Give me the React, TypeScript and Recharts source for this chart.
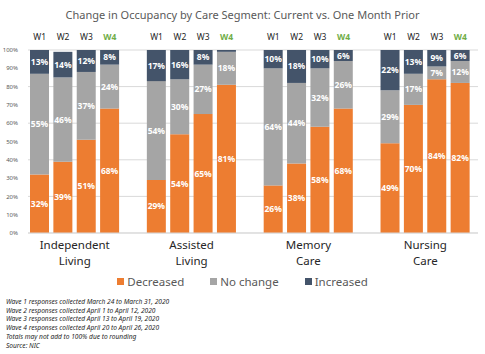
import { BarChart, Bar, XAxis, YAxis, CartesianGrid, LabelList, Legend } from "recharts";

const segments = ["Independent|Living", "Assisted|Living", "Memory|Care", "Nursing|Care"];
const waves = ["W1", "W2", "W3", "W4"];

// values per segment, W1..W4
const decreased = [32, 39, 51, 68, 29, 54, 65, 81, 26, 38, 58, 68, 49, 70, 84, 82];
const noChange = [55, 46, 37, 24, 54, 30, 27, 18, 64, 44, 32, 26, 29, 17, 7, 12];
const increased = [13, 14, 12, 8, 17, 16, 8, 1, 10, 18, 10, 6, 22, 13, 9, 6];

const yTicks = [0, 10, 20, 30, 40, 50, 60, 70, 80, 90, 100];

const notes = [
  "Wave 1 responses collected March 24 to March 31, 2020",
  "Wave 2 responses collected April 1 to April 12, 2020",
  "Wave 3 responses collected April 13 to April 19, 2020",
  "Wave 4 responses collected April 20 to April 26, 2020",
  "Totals may not add to 100% due to rounding",
  "Source: NIC",
];

type Row = {
  key: string;
  wave?: string;
  group?: string;
  dec?: number;
  none?: number;
  inc?: number;
};

const data: Row[] = [];
segments.forEach((g, gi) => {
  waves.forEach((w, wi) => {
    const i = gi * 4 + wi;
    data.push({ key: `${gi}-${w}`, wave: w, group: g, dec: decreased[i], none: noChange[i], inc: increased[i] });
  });
  if (gi < segments.length - 1) data.push({ key: `gap${gi}` });
});

const COLORS = { dec: "#ED7D31", none: "#A5A5A5", inc: "#44546A" };
const FONT = "'Noto Sans', sans-serif";

const pct = (v: any) => (v == null || v < 3 ? "" : `${v}%`);

function GroupTick(props: any) {
  const { x, y, payload } = props;
  const row = data.find((d) => d.key === payload.value);
  if (!row || row.wave !== "W2") return null;
  const [a, b] = (row.group || "").split("|");
  const cx = x + 11.7;
  return (
    <g fontSize={11.5} fill="#262626" fontFamily={FONT}>
      <text x={cx} y={y + 8} textAnchor="middle">{a}</text>
      <text x={cx} y={y + 24} textAnchor="middle">{b}</text>
    </g>
  );
}

function WaveTick(props: any) {
  const { x, y, payload } = props;
  const row = data.find((d) => d.key === payload.value);
  if (!row || !row.wave) return null;
  return (
    <text x={x} y={y} dy={-2} textAnchor="middle" fontSize={8.5} fontFamily={FONT}
      fill={row.wave === "W4" ? "#70AD47" : "#262626"} fontWeight={row.wave === "W4" ? 700 : 400}>
      {row.wave}
    </text>
  );
}

function LegendBox() {
  const items = [
    { label: "Decreased", color: COLORS.dec },
    { label: "No change", color: COLORS.none },
    { label: "Increased", color: COLORS.inc },
  ];
  return (
    <div style={{ display: "flex", justifyContent: "center", gap: 26, fontFamily: FONT, fontSize: 11.5, color: "#595959" }}>
      {items.map((it) => (
        <div key={it.label} style={{ display: "flex", alignItems: "center", gap: 3 }}>
          <span style={{ width: 7, height: 7, background: it.color, display: "inline-block" }} />
          <span>{it.label}</span>
        </div>
      ))}
    </div>
  );
}

export default function App() {
  const labelStyle = { fill: "#fff", fontSize: 8.5, fontWeight: 700, fontFamily: FONT };
  return (
    <div style={{ position: "absolute", left: 0, top: 0, width: 485, height: 354, background: "#fff" }}>
      <div style={{ position: "absolute", top: 7, width: 485, textAlign: "center", fontFamily: FONT, fontSize: 11, color: "#595959" }}>
        Change in Occupancy by Care Segment: Current vs. One Month Prior
      </div>
      <BarChart
        width={485}
        height={354}
        data={data}
        margin={{ top: 36, right: 7, left: 4, bottom: 80 }}
        barSize={19}
      >
        <CartesianGrid vertical={false} stroke="#D9D9D9" />
        <XAxis
          dataKey="key"
          interval={0}
          tick={<GroupTick />}
          tickLine={false}
          axisLine={{ stroke: "#D9D9D9" }}
          padding={{ left: 0, right: 6 }}
          height={26}
        />
        <XAxis
          xAxisId="top"
          orientation="top"
          dataKey="key"
          interval={0}
          tick={<WaveTick />}
          tickLine={false}
          axisLine={false}
          padding={{ left: 0, right: 6 }}
          height={14}
        />
        <YAxis
          domain={[0, 100]}
          ticks={yTicks}
          tickFormatter={(v) => `${v}%`}
          tick={{ fontSize: 6, fill: "#595959", fontFamily: FONT }}
          tickLine={false}
          axisLine={false}
          width={24}
          tickMargin={4}
        />
        <Legend content={<LegendBox />} wrapperStyle={{ top: 274, left: 0, width: 485 }} />
        <Bar dataKey="dec" stackId="a" fill={COLORS.dec} isAnimationActive={false}>
          <LabelList dataKey="dec" position="center" formatter={pct} style={labelStyle} />
        </Bar>
        <Bar dataKey="none" stackId="a" fill={COLORS.none} isAnimationActive={false}>
          <LabelList dataKey="none" position="center" formatter={pct} style={labelStyle} />
        </Bar>
        <Bar dataKey="inc" stackId="a" fill={COLORS.inc} isAnimationActive={false}>
          <LabelList dataKey="inc" position="center" formatter={pct} style={labelStyle} />
        </Bar>
      </BarChart>
      <div style={{ position: "absolute", left: 6, top: 298, fontFamily: FONT, fontSize: 6.6, fontStyle: "italic", color: "#262626", lineHeight: "8.7px" }}>
        {notes.map((n) => (
          <div key={n}>{n}</div>
        ))}
      </div>
    </div>
  );
}
